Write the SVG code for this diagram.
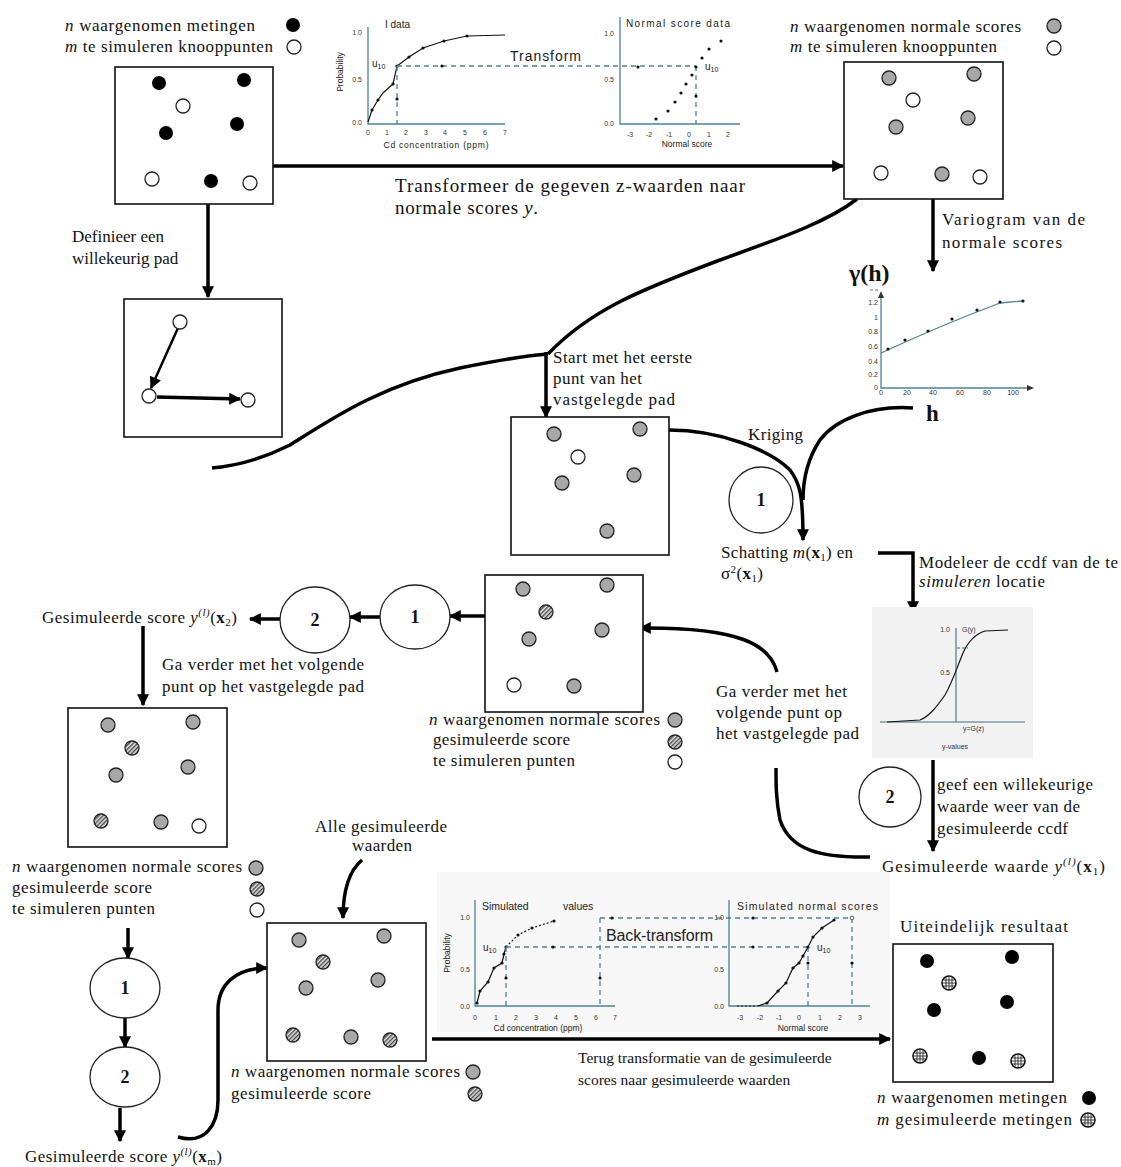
<svg xmlns="http://www.w3.org/2000/svg" width="1121" height="1167" viewBox="0 0 1121 1167">
<style>
.s{font-family:"Liberation Serif","Times New Roman",serif;font-size:17px;fill:#111}
.a{font-family:"Liberation Sans",Arial,sans-serif;fill:#222}
.box{fill:#fff;stroke:#111;stroke-width:1.6}
.ax{fill:none;stroke:#4e8294;stroke-width:1.3}
.ds{fill:none;stroke:#4e8294;stroke-width:1.3;stroke-dasharray:5,4}
.cv{fill:none;stroke:#111;stroke-width:1.2}
.tk{font-family:"Liberation Sans",Arial,sans-serif;font-size:7px;fill:#333}
.c{fill:none;stroke:#000;stroke-width:3.5}
.cn{fill:none;stroke:#000;stroke-width:3.5}
.el{fill:#fff;stroke:#222;stroke-width:1.3}
.num{font-family:"Liberation Serif","Times New Roman",serif;font-size:18px;font-weight:bold;fill:#111}
</style>
<defs>
<marker id="ah" viewBox="0 0 10 10" refX="9" refY="5" markerWidth="13" markerHeight="12" markerUnits="userSpaceOnUse" orient="auto"><path d="M0,0 L10,5 L0,10 z" fill="#000"/></marker>
<pattern id="hatch" width="3" height="3" patternUnits="userSpaceOnUse" patternTransform="rotate(45)"><rect width="3" height="3" fill="#e0e0e0"/><line x1="0.7" y1="0" x2="0.7" y2="3" stroke="#333" stroke-width="1.2"/></pattern>
<circle id="dk" r="7" fill="#000"/>
<circle id="dg" r="7" fill="#a8a8a8" stroke="#222" stroke-width="1.3"/>
<circle id="do" r="7" fill="#fff" stroke="#222" stroke-width="1.3"/>
<circle id="dh" r="7" fill="url(#hatch)" stroke="#222" stroke-width="1.3"/>
<g id="dx"><circle r="7" fill="#fff" stroke="#111" stroke-width="1.6"/><path d="M-7,0H7M0,-7V7M-5.5,-3H5.5M-5.5,3H5.5M-3,-5.5V5.5M3,-5.5V5.5" stroke="#111" stroke-width="0.8"/></g>
<circle id="sd" r="1.6" fill="#111"/>
</defs>
<rect width="1121" height="1167" fill="#fff"/>

<g id="connectors">
<line class="c" x1="273" y1="166" x2="843" y2="166" marker-end="url(#ah)"/>
<line class="c" x1="208" y1="204" x2="208" y2="297" stroke-width="4.5" marker-end="url(#ah)"/>
<line class="c" x1="933" y1="199" x2="933" y2="271" marker-end="url(#ah)"/>
<path class="cn" d="M857,199 C830,220 790,235 720,260 C640,290 590,310 548,354"/>
<path class="cn" d="M548,354 C520,356 490,362 460,368 C380,385 330,420 290,445 C260,460 235,466 212,468"/>
<line class="c" x1="546" y1="352" x2="546" y2="417" marker-end="url(#ah)"/>
<path class="c" d="M669,430 C720,430 770,450 790,470 C800,483 803,495 803,540" marker-end="url(#ah)"/>
<path class="cn" d="M913,408 C870,405 835,420 820,440 C808,458 803,480 803,500"/>
<polyline class="c" points="878,553 913,553 913,612" marker-end="url(#ah)"/>
<line class="c" x1="933" y1="760" x2="933" y2="851" marker-end="url(#ah)"/>
<path class="cn" d="M870,857 C820,858 790,850 780,820 C776,800 776,785 776,768"/>
<path class="c" d="M777,672 C770,645 740,627 640,628" marker-end="url(#ah)"/>
<line class="c" x1="485" y1="616" x2="450" y2="616" marker-end="url(#ah)"/>
<line class="c" x1="380" y1="617" x2="350" y2="617" marker-end="url(#ah)"/>
<line class="c" x1="280" y1="619" x2="250" y2="619" marker-end="url(#ah)"/>
<line class="c" x1="143" y1="626" x2="143" y2="705" stroke-width="3" marker-end="url(#ah)"/>
<line class="c" x1="128" y1="928" x2="128" y2="958" stroke-width="3" marker-end="url(#ah)"/>
<line class="c" x1="125" y1="1018" x2="125" y2="1047" stroke-width="3.5" marker-end="url(#ah)"/>
<line class="c" x1="120" y1="1108" x2="120" y2="1141" stroke-width="3" marker-end="url(#ah)"/>
<path class="c" d="M178,1137 C205,1145 218,1125 218,1100 L218,1010 C218,985 235,968 267,968" marker-end="url(#ah)"/>
<path class="c" d="M362,860 C350,870 343,890 343,918" marker-end="url(#ah)"/>
<line class="c" x1="432" y1="1039" x2="890" y2="1039" marker-end="url(#ah)"/>
</g>

<g id="legend-top-left">
<text class="s" x="65" y="31" textLength="190"><tspan font-style="italic">n</tspan> waargenomen metingen</text>
<text class="s" x="65" y="52" textLength="208"><tspan font-style="italic">m</tspan> te simuleren knooppunten</text>
<use href="#dk" x="293" y="25"/><use href="#do" x="294" y="47"/>
</g>
<g id="box-metingen">
<rect class="box" x="115" y="67" width="158" height="137"/>
<use href="#dk" x="159" y="83"/><use href="#dk" x="244" y="80"/><use href="#dk" x="166" y="133"/><use href="#dk" x="237" y="124"/><use href="#dk" x="211" y="181"/>
<use href="#do" x="183" y="106"/><use href="#do" x="152" y="179"/><use href="#do" x="250" y="183"/>
</g>

<g id="chart-transform">
<path class="ax" d="M368,27 V124 H505"/>
<text class="tk" x="362" y="35" text-anchor="end">1.0</text>
<text class="tk" x="362" y="82" text-anchor="end">0.5</text>
<text class="tk" x="362" y="125" text-anchor="end">0.0</text>
<g class="tk" text-anchor="middle"><text x="368" y="135">0</text><text x="387" y="135">1</text><text x="406" y="135">2</text><text x="426" y="135">3</text><text x="445" y="135">4</text><text x="465" y="135">5</text><text x="485" y="135">6</text><text x="505" y="135">7</text></g>
<text class="a" x="436" y="148" font-size="8.5" text-anchor="middle" textLength="105">Cd concentration (ppm)</text>
<text class="a" transform="translate(343,72) rotate(-90)" font-size="8.5" text-anchor="middle">Probability</text>
<text class="a" x="385" y="28" font-size="10">I data</text>
<text class="a" x="372" y="67" font-size="10">u<tspan font-size="7" dy="2">10</tspan></text>
<path class="cv" d="M368,122 L372,110 L378,100 L383,93 L393,84 L397,66 L409,57 L423,48 L444,41 L467,36 L505,35"/>
<g fill="#111"><use href="#sd" x="372" y="110"/><use href="#sd" x="378" y="100"/><use href="#sd" x="393" y="84"/><use href="#sd" x="397" y="66"/><use href="#sd" x="409" y="57"/><use href="#sd" x="423" y="48"/><use href="#sd" x="444" y="41"/><use href="#sd" x="467" y="36"/></g>
<path class="ds" d="M397,66 H696 M397,66 V124 M696,66 V124"/>
<use href="#sd" x="442" y="66"/><use href="#sd" x="397" y="99"/>
<text class="a" x="510" y="61" font-size="14" textLength="71">Transform</text>
<path class="ax" d="M620,17 V124 H740"/>
<text class="tk" x="614" y="36" text-anchor="end">1.0</text>
<text class="tk" x="614" y="82" text-anchor="end">0.5</text>
<text class="tk" x="614" y="126" text-anchor="end">0.0</text>
<g class="tk" text-anchor="middle"><text x="630" y="137">-3</text><text x="649" y="137">-2</text><text x="669" y="137">-1</text><text x="689" y="137">0</text><text x="709" y="137">1</text><text x="728" y="137">2</text></g>
<text class="a" x="626" y="27" font-size="10" textLength="104">Normal score data</text>
<text class="a" x="687" y="147" font-size="8.5" text-anchor="middle">Normal score</text>
<text class="a" x="705" y="70" font-size="10">u<tspan font-size="7" dy="2">10</tspan></text>
<g><use href="#sd" x="638" y="67"/><use href="#sd" x="656" y="119"/><use href="#sd" x="668" y="111"/><use href="#sd" x="675" y="102"/><use href="#sd" x="681" y="93"/><use href="#sd" x="686" y="84"/><use href="#sd" x="692" y="75"/><use href="#sd" x="696" y="67"/><use href="#sd" x="702" y="58"/><use href="#sd" x="709" y="49"/><use href="#sd" x="721" y="41"/><use href="#sd" x="696" y="96"/></g>
</g>

<g id="text-transformeer">
<text class="s" x="395" y="192" style="font-size:19px" textLength="350">Transformeer de gegeven z-waarden naar</text>
<text class="s" x="395" y="214" style="font-size:19px" textLength="143">normale scores <tspan font-style="italic">y</tspan>.</text>
</g>

<g id="legend-top-right">
<text class="s" x="790" y="32" textLength="231"><tspan font-style="italic">n</tspan> waargenomen normale scores</text>
<text class="s" x="790" y="52" textLength="207"><tspan font-style="italic">m</tspan> te simuleren knooppunten</text>
<use href="#dg" x="1054" y="26"/><use href="#do" x="1054" y="48"/>
</g>
<g id="box-normal-scores">
<rect class="box" x="844" y="62" width="159" height="137"/>
<use href="#dg" x="889" y="78"/><use href="#dg" x="974" y="74"/><use href="#dg" x="896" y="127"/><use href="#dg" x="968" y="118"/><use href="#dg" x="942" y="174"/>
<use href="#do" x="913" y="100"/><use href="#do" x="881" y="173"/><use href="#do" x="980" y="177"/>
</g>
<g id="text-variogram">
<text class="s" x="942" y="225" textLength="143">Variogram van de</text>
<text class="s" x="942" y="248" textLength="120">normale scores</text>
</g>

<g id="text-definieer">
<text class="s" x="72" y="242">Definieer een</text>
<text class="s" x="72" y="264">willekeurig pad</text>
</g>
<g id="box-pad">
<rect class="box" x="124" y="299" width="158" height="138"/>
<line x1="178" y1="328" x2="151" y2="388" stroke="#000" stroke-width="2.5" marker-end="url(#ah)"/>
<line x1="157" y1="397" x2="240" y2="399" stroke="#000" stroke-width="3.5" marker-end="url(#ah)"/>
<use href="#do" x="180" y="322"/><use href="#do" x="149" y="396"/><use href="#do" x="248" y="400"/>
</g>

<g id="chart-variogram">
<text class="s" x="849" y="281" style="font-size:24px;font-weight:bold">γ(h)</text>
<path class="ax" d="M881,293 V388 H1032"/>
<path d="M878,298 L881,291 L884,298 Z M1027,385 L1034,388 L1027,391 Z" fill="#333"/>
<path d="M870,290 H873 M875,290 H878" stroke="#444" stroke-width="0.8"/>
<g class="tk" font-size="5" text-anchor="end"><text x="878" y="305">1.2</text><text x="878" y="320">1</text><text x="878" y="334">0.8</text><text x="878" y="349">0.6</text><text x="878" y="364">0.4</text><text x="878" y="377">0.2</text><text x="878" y="390">0</text></g>
<g class="tk" font-size="5" text-anchor="middle"><text x="881" y="395">0</text><text x="907" y="395">20</text><text x="933" y="395">40</text><text x="960" y="395">60</text><text x="987" y="395">80</text><text x="1013" y="395">100</text></g>
<path d="M881,353 C920,335 960,318 1000,303 L1023,301" fill="none" stroke="#4e8294" stroke-width="1.3"/>
<g><use href="#sd" x="888" y="349"/><use href="#sd" x="905" y="340"/><use href="#sd" x="928" y="331"/><use href="#sd" x="952" y="319"/><use href="#sd" x="977" y="310"/><use href="#sd" x="1000" y="302"/><use href="#sd" x="1023" y="301"/></g>
<text class="s" x="926" y="421" style="font-size:23px;font-weight:bold">h</text>
</g>

<g id="text-start">
<text class="s" x="553" y="363" textLength="139">Start met het eerste</text>
<text class="s" x="553" y="384" textLength="89">punt van het</text>
<text class="s" x="553" y="405" textLength="122">vastgelegde pad</text>
</g>
<g id="box-start">
<rect class="box" x="511" y="417" width="158" height="138"/>
<use href="#dg" x="554" y="434"/><use href="#dg" x="640" y="429"/><use href="#dg" x="562" y="483"/><use href="#dg" x="634" y="475"/><use href="#dg" x="607" y="531"/>
<use href="#do" x="578" y="457"/>
</g>
<text class="s" x="748" y="440" textLength="55">Kriging</text>
<g id="step1-kriging">
<ellipse class="el" cx="761" cy="500" rx="32" ry="33"/>
<text class="num" x="761" y="506" text-anchor="middle">1</text>
</g>
<g id="text-schatting">
<text class="s" x="721" y="558" textLength="132">Schatting <tspan font-style="italic">m</tspan>(<tspan font-weight="bold">x</tspan><tspan font-size="11" dy="3">1</tspan><tspan dy="-3">) en</tspan></text>
<text class="s" x="721" y="579" textLength="42">σ<tspan font-size="11" dy="-6">2</tspan><tspan dy="6">(</tspan><tspan font-weight="bold">x</tspan><tspan font-size="11" dy="3">1</tspan><tspan dy="-3">)</tspan></text>
</g>
<g id="text-modeleer">
<text class="s" x="919" y="568" textLength="199">Modeleer de ccdf van de te</text>
<text class="s" x="919" y="587" textLength="126"><tspan font-style="italic">simuleren</tspan> locatie</text>
</g>
<g id="chart-ccdf">
<rect x="872" y="607" width="161" height="151" fill="#f2f2f2"/>
<path d="M956,628 V722 M880,722 H1025" fill="none" stroke="#3e6f80" stroke-width="1.1"/>
<text class="tk" x="950" y="632" text-anchor="end" font-size="6">1.0</text>
<text class="tk" x="962" y="632" font-size="6">G(y)</text>
<text class="tk" x="950" y="675" text-anchor="end" font-size="6">0.5</text>
<text class="tk" x="963" y="731" font-size="6">y=G(z)</text>
<text class="tk" x="955" y="749" font-size="6" text-anchor="middle">y-values</text>
<path class="cv" d="M887,722 L920,720 C930,716 938,705 945,695 C952,683 958,665 963,653 C968,642 975,634 985,631 L1008,630"/>
<line x1="957" y1="648" x2="968" y2="648" stroke="#3e6f80" stroke-width="1.2" stroke-dasharray="3,2"/>
</g>
<g id="step2-ccdf">
<ellipse class="el" cx="890" cy="797" rx="31" ry="30"/>
<text class="num" x="890" y="803" text-anchor="middle">2</text>
</g>
<g id="text-geef">
<text class="s" x="937" y="790" textLength="156">geef een willekeurige</text>
<text class="s" x="937" y="812" textLength="143">waarde weer van de</text>
<text class="s" x="937" y="834" textLength="131">gesimuleerde ccdf</text>
</g>
<text id="text-gesim-waarde" class="s" x="882" y="872" textLength="223">Gesimuleerde waarde <tspan font-style="italic">y</tspan><tspan font-size="11" dy="-7" font-style="italic">(l)</tspan><tspan dy="7">(</tspan><tspan font-weight="bold">x</tspan><tspan font-size="11" dy="3">1</tspan><tspan dy="-3">)</tspan></text>
<g id="text-ga-verder-1">
<text class="s" x="716" y="697" textLength="131">Ga verder met het</text>
<text class="s" x="716" y="718" textLength="126">volgende punt op</text>
<text class="s" x="716" y="739" textLength="143">het vastgelegde pad</text>
</g>

<g id="box-stap2">
<rect class="box" x="485" y="575" width="158" height="137"/>
<use href="#dg" x="523" y="589"/><use href="#dg" x="607" y="585"/><use href="#dg" x="529" y="639"/><use href="#dg" x="602" y="630"/><use href="#dg" x="574" y="686"/>
<use href="#dh" x="546" y="612"/><use href="#do" x="514" y="685"/>
</g>
<g id="legend-stap2">
<text class="s" x="429" y="725" textLength="231"><tspan font-style="italic">n</tspan> waargenomen normale scores</text>
<text class="s" x="433" y="745" textLength="137">gesimuleerde score</text>
<text class="s" x="433" y="766" textLength="142">te simuleren punten</text>
<use href="#dg" x="675" y="720"/><use href="#dh" x="675" y="742"/><use href="#do" x="675" y="762"/>
</g>
<g id="step1-b"><ellipse class="el" cx="415" cy="617" rx="35" ry="32"/><text class="num" x="415" y="623" text-anchor="middle">1</text></g>
<g id="step2-b"><ellipse class="el" cx="315" cy="620" rx="35" ry="33"/><text class="num" x="315" y="626" text-anchor="middle">2</text></g>
<text id="text-gesim-x2" class="s" x="42" y="623" textLength="195">Gesimuleerde score <tspan font-style="italic">y</tspan><tspan font-size="11" dy="-7" font-style="italic">(l)</tspan><tspan dy="7">(</tspan><tspan font-weight="bold">x</tspan><tspan font-size="11" dy="3">2</tspan><tspan dy="-3">)</tspan></text>
<g id="text-ga-verder-2">
<text class="s" x="162" y="670" textLength="202">Ga verder met het volgende</text>
<text class="s" x="162" y="692" textLength="202">punt op het vastgelegde pad</text>
</g>
<g id="box-stap3">
<rect class="box" x="68" y="708" width="159" height="139"/>
<use href="#dg" x="108" y="725"/><use href="#dg" x="193" y="722"/><use href="#dg" x="116" y="775"/><use href="#dg" x="188" y="767"/><use href="#dg" x="161" y="822"/>
<use href="#dh" x="132" y="748"/><use href="#dh" x="101" y="821"/><use href="#do" x="199" y="826"/>
</g>
<g id="legend-stap3">
<text class="s" x="12" y="872" textLength="230"><tspan font-style="italic">n</tspan> waargenomen normale scores</text>
<text class="s" x="12" y="893" textLength="140">gesimuleerde score</text>
<text class="s" x="12" y="914" textLength="143">te simuleren punten</text>
<use href="#dg" x="256" y="868"/><use href="#dh" x="257" y="889"/><use href="#do" x="257" y="910"/>
</g>
<g id="step1-c"><ellipse class="el" cx="125" cy="988" rx="35" ry="30"/><text class="num" x="125" y="994" text-anchor="middle">1</text></g>
<g id="step2-c"><ellipse class="el" cx="125" cy="1077" rx="35" ry="30"/><text class="num" x="125" y="1083" text-anchor="middle">2</text></g>
<text id="text-gesim-xm" class="s" x="25" y="1162" textLength="197">Gesimuleerde score <tspan font-style="italic">y</tspan><tspan font-size="11" dy="-7" font-style="italic">(l)</tspan><tspan dy="7">(</tspan><tspan font-weight="bold">x</tspan><tspan font-size="11" dy="3">m</tspan><tspan dy="-3">)</tspan></text>
<g id="text-alle">
<text class="s" x="315" y="832" textLength="132">Alle gesimuleerde</text>
<text class="s" x="352" y="851" textLength="60">waarden</text>
</g>
<g id="box-alle">
<rect class="box" x="267" y="923" width="159" height="138"/>
<use href="#dg" x="299" y="940"/><use href="#dg" x="384" y="936"/><use href="#dg" x="306" y="988"/><use href="#dg" x="378" y="980"/><use href="#dg" x="351" y="1037"/>
<use href="#dh" x="323" y="962"/><use href="#dh" x="293" y="1035"/><use href="#dh" x="390" y="1040"/>
</g>
<g id="legend-alle">
<text class="s" x="231" y="1077" textLength="229"><tspan font-style="italic">n</tspan> waargenomen normale scores</text>
<text class="s" x="231" y="1099" textLength="140">gesimuleerde score</text>
<use href="#dg" x="473" y="1072"/><use href="#dh" x="475" y="1094"/>
</g>

<g id="chart-backtransform">
<rect x="437" y="872" width="453" height="160" fill="#f7f7f7"/>
<path class="ax" d="M475,900 V1006 H615"/>
<text class="tk" x="470" y="920" text-anchor="end">1.0</text>
<text class="tk" x="470" y="972" text-anchor="end">0.5</text>
<text class="tk" x="470" y="1009" text-anchor="end">0.0</text>
<g class="tk" text-anchor="middle"><text x="475" y="1020">0</text><text x="496" y="1020">1</text><text x="516" y="1020">2</text><text x="536" y="1020">3</text><text x="556" y="1020">4</text><text x="576" y="1020">5</text><text x="596" y="1020">6</text><text x="615" y="1020">7</text></g>
<text class="a" x="538" y="1031" font-size="8.5" text-anchor="middle">Cd concentration (ppm)</text>
<text class="a" transform="translate(450,953) rotate(-90)" font-size="8.5" text-anchor="middle">Probability</text>
<text class="a" x="482" y="910" font-size="10.5">Simulated</text>
<text class="a" x="563" y="910" font-size="10.5">values</text>
<text class="a" x="483" y="951" font-size="10">u<tspan font-size="7" dy="2">10</tspan></text>
<path class="cv" d="M477,1003 L480,991 L488,982 L494,968 L502,963 L504,954 L506,947"/>
<path class="cv" d="M506,947 L518,935 L532,928 L554,921" stroke-dasharray="2,2"/>
<g><use href="#sd" x="477" y="1003"/><use href="#sd" x="480" y="991"/><use href="#sd" x="488" y="982"/><use href="#sd" x="494" y="968"/><use href="#sd" x="502" y="963"/><use href="#sd" x="504" y="954"/><use href="#sd" x="506" y="947"/><use href="#sd" x="518" y="935"/><use href="#sd" x="532" y="928"/><use href="#sd" x="554" y="921"/></g>
<path class="ds" d="M506,947 H808 M506,947 V1006 M600,918 V1006 M600,918 H852 M808,947 V1006 M852,918 V1006"/>
<g><use href="#sd" x="553" y="947"/><use href="#sd" x="753" y="947"/><use href="#sd" x="506" y="978"/><use href="#sd" x="600" y="978"/><use href="#sd" x="612" y="918"/><use href="#sd" x="753" y="918"/><use href="#sd" x="808" y="963"/><use href="#sd" x="852" y="963"/></g>
<circle cx="852" cy="918" r="1.8" fill="#fff" stroke="#333" stroke-width="0.8"/>
<text class="a" x="606" y="941" font-size="16" textLength="107">Back-transform</text>
<path class="ax" d="M729,900 V1006 H870"/>
<text class="tk" x="724" y="920" text-anchor="end">1.0</text>
<text class="tk" x="724" y="972" text-anchor="end">0.5</text>
<text class="tk" x="724" y="1009" text-anchor="end">0.0</text>
<g class="tk" text-anchor="middle"><text x="740" y="1020">-3</text><text x="760" y="1020">-2</text><text x="779" y="1020">-1</text><text x="799" y="1020">0</text><text x="820" y="1020">1</text><text x="840" y="1020">2</text><text x="860" y="1020">3</text></g>
<text class="a" x="803" y="1031" font-size="8.5" text-anchor="middle">Normal score</text>
<text class="a" x="737" y="910" font-size="10.5" textLength="141">Simulated normal scores</text>
<text class="a" x="817" y="951" font-size="10">u<tspan font-size="7" dy="2">10</tspan></text>
<path class="cv" d="M737,1006 L758,1006" stroke-dasharray="2,2"/>
<path class="cv" d="M758,1006 L767,1003 L778,991 L786,983 L793,968 L799,963 L803,956 L808,947 L813,937 L822,928 L834,920"/>
<g><use href="#sd" x="767" y="1003"/><use href="#sd" x="778" y="991"/><use href="#sd" x="786" y="983"/><use href="#sd" x="793" y="968"/><use href="#sd" x="799" y="963"/><use href="#sd" x="803" y="956"/><use href="#sd" x="808" y="947"/><use href="#sd" x="813" y="937"/><use href="#sd" x="822" y="928"/><use href="#sd" x="834" y="920"/></g>
</g>
<g id="text-terug">
<text class="s" x="578" y="1063" style="font-size:15.5px">Terug transformatie van de gesimuleerde</text>
<text class="s" x="578" y="1085" style="font-size:15.5px">scores naar gesimuleerde waarden</text>
</g>

<text id="text-uiteindelijk" class="s" x="900" y="932" textLength="168">Uiteindelijk resultaat</text>
<g id="box-resultaat">
<rect class="box" x="893" y="944" width="160" height="138"/>
<use href="#dk" x="927" y="961"/><use href="#dk" x="1012" y="957"/><use href="#dk" x="934" y="1010"/><use href="#dk" x="1007" y="1002"/><use href="#dk" x="979" y="1058"/>
<use href="#dx" x="949" y="983"/><use href="#dx" x="920" y="1056"/><use href="#dx" x="1018" y="1061"/>
</g>
<g id="legend-resultaat">
<text class="s" x="877" y="1103" textLength="190"><tspan font-style="italic">n</tspan> waargenomen metingen</text>
<text class="s" x="877" y="1125" textLength="195"><tspan font-style="italic">m</tspan> gesimuleerde metingen</text>
<use href="#dk" x="1089" y="1098"/><use href="#dx" x="1088" y="1120"/>
</g>
</svg>
